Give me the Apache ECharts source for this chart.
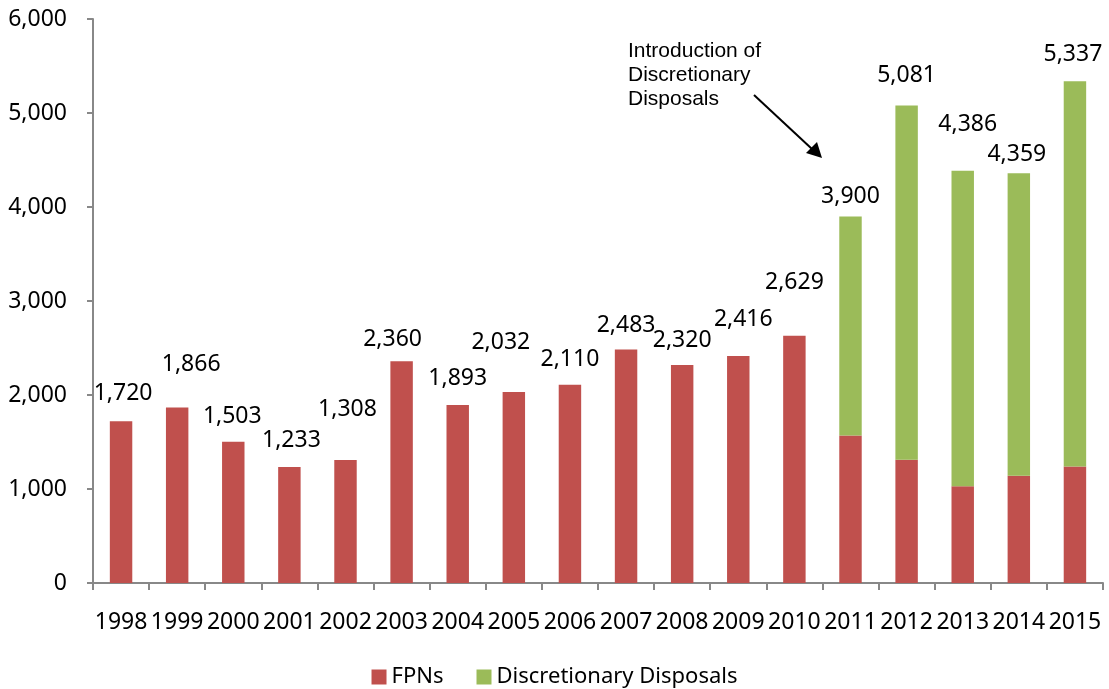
<!DOCTYPE html>
<html>
<head>
<meta charset="utf-8">
<script src="https://cdn.jsdelivr.net/npm/echarts@6/dist/echarts.min.js"></script>
<style>
html,body{margin:0;padding:0;background:#fff;}
#chart{width:1109px;height:689px;}
</style>
</head>
<body>
<div id="chart"></div>
<script>
// 年份
var years = ['1998','1999','2000','2001','2002','2003','2004','2005','2006','2007','2008','2009','2010','2011','2012','2013','2014','2015'];
// FPNs
var fpns = [1720,1866,1503,1233,1308,2360,1893,2032,2110,2483,2320,2416,2629,1570,1310,1030,1140,1240];
// Discretionary Disposals (2011起)
var disposals = [null,null,null,null,null,null,null,null,null,null,null,null,null,2330,3771,3356,3219,4097];
// 柱顶合计标签
var totals = [1720,1866,1503,1233,1308,2360,1893,2032,2110,2483,2320,2416,2629,3900,5081,4386,4359,5337];
var yTicks = [0,1000,2000,3000,4000,5000,6000];

// 标签手动位置(像素): 离柱顶高度, 水平偏移
var labelGap = [29,45,27,28,52,23,28,51,27,26,26,38,55,21,31,48,20,28];
var labelDx = [2,14,-1,2,2,-9,0,-13,0,0,0,5,0,0,0,5,-2,-2];

var myChart = echarts.init(document.getElementById('chart'));

function fmt(v){
	return v.toLocaleString('en-US');
}

function topLabel(i){
	return {
		show: true,
		position: 'top',
		distance: labelGap[i] - 13,
		offset: [labelDx[i], 0],
		formatter: fmt(totals[i]),
		fontFamily: 'Noto Sans',
		fontSize: 23,
		color: '#000'
	};
}

var option = {
	animation: false,
	grid: {
		left: 93,
		right: 6,
		top: 19,
		bottom: 106
	},
	legend: {
		top: 661,
		left: 'center',
		itemWidth: 15,
		itemHeight: 15,
		itemGap: 33,
		icon: 'rect',
		textStyle: {fontFamily: 'Noto Sans', fontSize: 22, color: '#000'},
		data: ['FPNs','Discretionary Disposals']
	},
	xAxis: {
		type: 'category',
		data: years,
		axisLine: {lineStyle: {color: '#888', width: 2}},
		axisTick: {show: true, length: 7, lineStyle: {color: '#888', width: 2}},
		axisLabel: {fontFamily: 'Noto Sans', fontSize: 23, color: '#000', margin: 28, interval: 0}
	},
	yAxis: {
		type: 'value',
		min: yTicks[0],
		max: yTicks[yTicks.length - 1],
		interval: 1000,
		axisLine: {show: true, lineStyle: {color: '#888', width: 2}},
		axisTick: {show: true, length: 6, lineStyle: {color: '#888', width: 2}},
		splitLine: {show: false},
		axisLabel: {
			fontFamily: 'Noto Sans', fontSize: 23, color: '#000', margin: 26,
			formatter: function(v){ return fmt(v); }
		}
	},
	series: [
		{
			name: 'FPNs',
			type: 'bar',
			stack: 'total',
			barWidth: '40%',
			itemStyle: {color: '#C0504D'},
			data: fpns.map(function(v, i){
				return {
					value: v,
					label: disposals[i] == null ? topLabel(i) : {show: false}
				};
			})
		},
		{
			name: 'Discretionary Disposals',
			type: 'bar',
			stack: 'total',
			barWidth: '40%',
			itemStyle: {color: '#9BBB59'},
			data: disposals.map(function(v, i){
				return {
					value: v,
					label: v != null ? topLabel(i) : {show: false}
				};
			})
		}
	],
	graphic: [
		{
			type: 'text',
			left: 628,
			top: 39,
			style: {
				text: 'Introduction of\nDiscretionary\nDisposals',
				font: '21px "Liberation Sans"',
				lineHeight: 24,
				fill: '#000'
			}
		},
		{
			type: 'line',
			shape: {x1: 754, y1: 95, x2: 812, y2: 149},
			style: {stroke: '#000', lineWidth: 2}
		},
		{
			type: 'polygon',
			shape: {points: [[822, 158], [806, 153], [817, 142]]},
			style: {fill: '#000'}
		}
	]
};

myChart.setOption(option);
</script>
</body>
</html>
